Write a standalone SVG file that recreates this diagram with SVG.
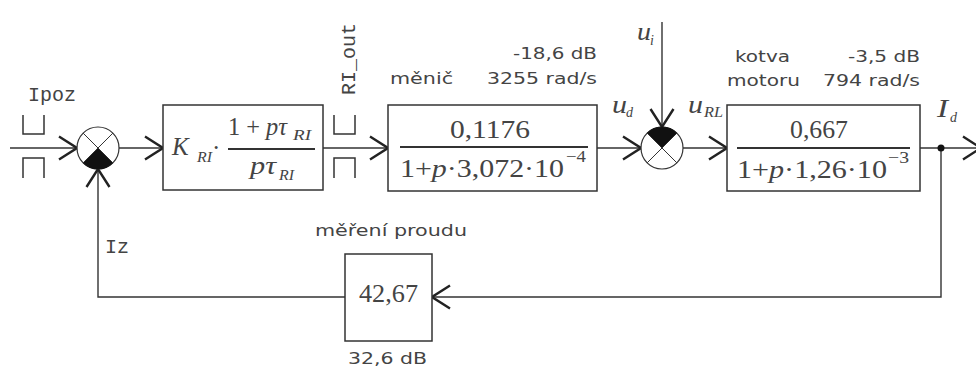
<svg xmlns="http://www.w3.org/2000/svg" width="976" height="367" viewBox="0 0 976 367">
<defs>
<style>
.ln{fill:none;stroke:#333;stroke-width:1.4}
.box{fill:#fff;stroke:#333;stroke-width:1.5}
.bar{stroke:#333;stroke-width:2}
.sj{fill:#fff;stroke:#333;stroke-width:1.2}
.sx{stroke:#333;stroke-width:1}
.q{fill:#111;stroke:#111;stroke-width:1}
.br{fill:none;stroke:#333;stroke-width:1.5}
.mono{font-family:"Liberation Mono","Courier New",monospace;font-size:20px;fill:#444}
.sans{font-family:"DejaVu Sans",sans-serif;font-size:16px;fill:#444}
.m{font-family:"Liberation Serif","Times New Roman",serif;font-size:25px;fill:#444}
.mi{font-family:"Liberation Serif","Times New Roman",serif;font-size:25px;font-style:italic;fill:#444}
.sub{font-family:"Liberation Serif","Times New Roman",serif;font-size:14px;font-style:italic;fill:#444}
.sup{font-family:"Liberation Serif","Times New Roman",serif;font-size:16px;fill:#444}
</style>
<marker id="ar" viewBox="-20 -13 22 26" refX="0" refY="0" markerWidth="22" markerHeight="26" orient="auto" markerUnits="userSpaceOnUse">
<path d="M-18,-11.5 L0,0 L-18,11.5" fill="none" stroke="#222" stroke-width="2.4"/>
</marker>
</defs>

<g id="connectors">
<path class="ln" d="M10,148 H77" marker-end="url(#ar)"/>
<path class="ln" d="M119,148 H163" marker-end="url(#ar)"/>
<path class="ln" d="M323,148 H388" marker-end="url(#ar)"/>
<path class="ln" d="M597,148 H641" marker-end="url(#ar)"/>
<path class="ln" d="M662,22 V127" marker-end="url(#ar)"/>
<path class="ln" d="M683,148 H727" marker-end="url(#ar)"/>
<path class="ln" d="M920,148 H981" marker-end="url(#ar)"/>
<path class="ln" d="M941,148 V297 H432" marker-end="url(#ar)"/>
<path class="ln" d="M345,297 H98 V169" marker-end="url(#ar)"/>
<circle cx="941" cy="148" r="3.5" fill="#111"/>
</g>

<g id="input-ipoz">
<path class="br" d="M23,115 V134 H44 V115"/>
<path class="br" d="M23,178 V158 H44 V178"/>
<text class="mono" x="28" y="101">Ipoz</text>
</g>

<g id="output-ri">
<path class="br" d="M334,115 V134 H355 V115"/>
<path class="br" d="M334,178 V158 H355 V178"/>
<text class="mono" transform="translate(355,95) rotate(-90)" x="0" y="0">RI_out</text>
</g>

<g id="sum1">
<circle class="sj" cx="98" cy="148" r="21"/>
<path class="q" d="M98,148 L83.15,162.85 A21,21 0 0,0 112.85,162.85 Z"/>
<path class="sx" d="M83.15,133.15 L112.85,162.85 M112.85,133.15 L83.15,162.85"/>
</g>

<g id="regulator">
<rect class="box" x="163" y="105" width="160" height="85"/>
<text class="mi" x="172" y="155" font-size="27">K</text>
<text class="sub" x="197" y="162" textLength="15" lengthAdjust="spacingAndGlyphs">RI</text>
<text class="m" x="212" y="156">·</text>
<text class="m" x="228" y="135" textLength="59" lengthAdjust="spacingAndGlyphs">1 + <tspan font-style="italic">pτ</tspan></text>
<text class="sub" x="293" y="140" textLength="18" lengthAdjust="spacingAndGlyphs">RI</text>
<line class="bar" x1="228" y1="149" x2="315" y2="149"/>
<text class="mi" x="250" y="174" textLength="26" lengthAdjust="spacingAndGlyphs">pτ</text>
<text class="sub" x="279" y="180" textLength="15" lengthAdjust="spacingAndGlyphs">RI</text>
</g>

<g id="converter">
<rect class="box" x="388" y="105" width="209" height="86"/>
<text class="m" x="450" y="138" textLength="80" lengthAdjust="spacingAndGlyphs">0,1176</text>
<line class="bar" x1="400" y1="147" x2="588" y2="147"/>
<text class="m" x="400" y="177" textLength="164" lengthAdjust="spacingAndGlyphs">1+<tspan font-style="italic">p</tspan>·3,072·10</text>
<text class="sup" x="566" y="162" textLength="20" lengthAdjust="spacingAndGlyphs">−4</text>
<text class="sans" x="390" y="84" textLength="63" lengthAdjust="spacingAndGlyphs">měnič</text>
<text class="sans" x="513" y="59" textLength="84" lengthAdjust="spacingAndGlyphs">-18,6 dB</text>
<text class="sans" x="487" y="84" textLength="110" lengthAdjust="spacingAndGlyphs">3255 rad/s</text>
</g>

<g id="labels">
<text class="mi" x="612" y="113" textLength="15" lengthAdjust="spacingAndGlyphs">u</text>
<text class="sub" x="626" y="117">d</text>
<text class="mi" x="637" y="40" textLength="14" lengthAdjust="spacingAndGlyphs">u</text>
<text class="sub" x="650" y="45">i</text>
<text class="mi" x="688" y="113" textLength="15" lengthAdjust="spacingAndGlyphs">u</text>
<text class="sub" x="704" y="117" textLength="19" lengthAdjust="spacingAndGlyphs">RL</text>
<text class="mi" x="937" y="117" textLength="11" lengthAdjust="spacingAndGlyphs">I</text>
<text class="sub" x="950" y="122">d</text>
<text class="mono" x="105" y="253">Iz</text>
</g>

<g id="sum2">
<circle class="sj" cx="662" cy="148" r="21"/>
<path class="q" d="M662,148 L647.15,133.15 A21,21 0 0,1 676.85,133.15 Z"/>
<path class="sx" d="M647.15,133.15 L676.85,162.85 M676.85,133.15 L647.15,162.85"/>
</g>

<g id="armature">
<rect class="box" x="727" y="105" width="193" height="86"/>
<text class="m" x="790" y="138" textLength="58" lengthAdjust="spacingAndGlyphs">0,667</text>
<line class="bar" x1="737" y1="148" x2="910" y2="148"/>
<text class="m" x="737" y="178" textLength="150" lengthAdjust="spacingAndGlyphs">1+<tspan font-style="italic">p</tspan>·1,26·10</text>
<text class="sup" x="888" y="163" textLength="21" lengthAdjust="spacingAndGlyphs">−3</text>
<text class="sans" x="735" y="62" textLength="55" lengthAdjust="spacingAndGlyphs">kotva</text>
<text class="sans" x="727" y="86" textLength="73" lengthAdjust="spacingAndGlyphs">motoru</text>
<text class="sans" x="848" y="62" textLength="72" lengthAdjust="spacingAndGlyphs">-3,5 dB</text>
<text class="sans" x="823" y="86" textLength="97" lengthAdjust="spacingAndGlyphs">794 rad/s</text>
</g>

<g id="measurement">
<rect class="box" x="345" y="254" width="87" height="87"/>
<text class="m" x="359" y="302" textLength="59" lengthAdjust="spacingAndGlyphs">42,67</text>
<text class="sans" x="315" y="236" textLength="152" lengthAdjust="spacingAndGlyphs">měření proudu</text>
<text class="sans" x="348" y="364" textLength="79" lengthAdjust="spacingAndGlyphs">32,6 dB</text>
</g>
</svg>
